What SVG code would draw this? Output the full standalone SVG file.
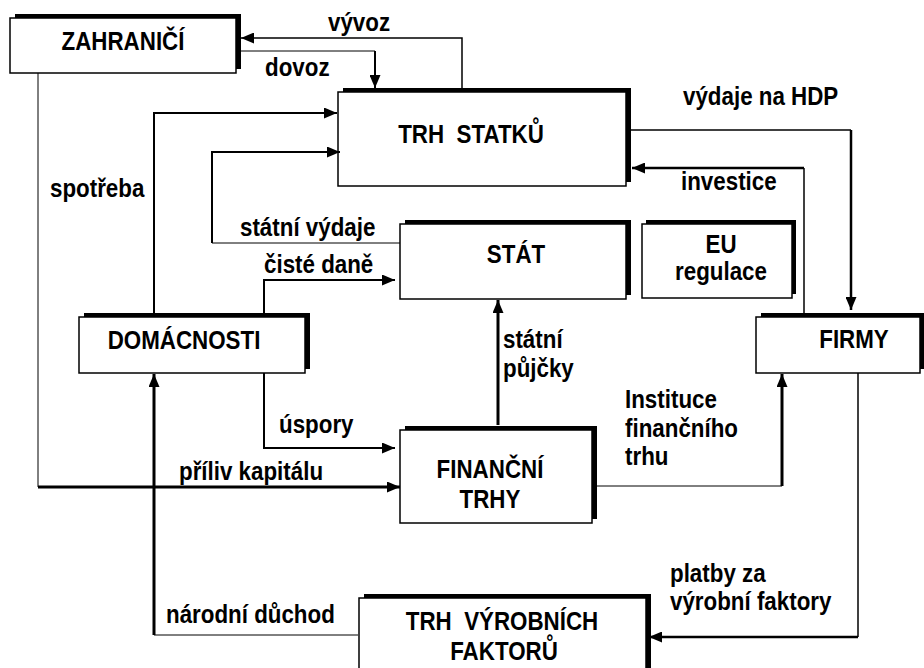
<svg xmlns="http://www.w3.org/2000/svg" width="924" height="668" viewBox="0 0 924 668">
<defs>
<marker id="ah" markerUnits="userSpaceOnUse" markerWidth="13" markerHeight="11" refX="13" refY="5.5" orient="auto">
<path d="M0,0 L13,5.5 L0,11 z" fill="#000"/>
</marker>
</defs>
<style>
text{font-family:"Liberation Sans",Arial,sans-serif;font-weight:bold;font-size:26px;fill:#000;white-space:pre}
.t{text-anchor:middle}
.sh{fill:#000}
.bx{fill:#fff;stroke:#000;stroke-width:1.5}
.c{fill:none;stroke:#000}
.a{marker-end:url(#ah)}
</style>
<rect width="924" height="668" fill="#fff"/>
<g id="zahranici"><rect class="sh" x="15" y="14" width="226" height="55"/><rect class="bx" x="10" y="18" width="226" height="55"/><text class="t" transform="translate(123,50) scale(0.86,1)">ZAHRANIČÍ</text></g>
<g id="trh-statku"><rect class="sh" x="343" y="88" width="288" height="94"/><rect class="bx" x="338" y="92" width="288" height="94"/><text class="t" transform="translate(471,143) scale(0.86,1)">TRH  STATKŮ</text></g>
<g id="stat"><rect class="sh" x="405" y="220" width="226" height="75"/><rect class="bx" x="400" y="224" width="226" height="75"/><text class="t" transform="translate(516,263) scale(0.86,1)">STÁT</text></g>
<g id="eu"><rect class="sh" x="646" y="220" width="150" height="74"/><rect class="bx" x="642" y="224" width="150" height="74"/><text class="t" transform="translate(721,253) scale(0.86,1)">EU</text><text class="t" transform="translate(721,280) scale(0.86,1)">regulace</text></g>
<g id="domacnosti"><rect class="sh" x="84" y="313" width="226" height="56"/><rect class="bx" x="79" y="317" width="226" height="56"/><text class="t" transform="translate(184,349) scale(0.86,1)">DOMÁCNOSTI</text></g>
<g id="firmy"><rect class="sh" x="761" y="313" width="164" height="56"/><rect class="bx" x="756" y="317" width="164" height="56"/><text class="t" transform="translate(854,348) scale(0.86,1)">FIRMY</text></g>
<g id="financni-trhy"><rect class="sh" x="405" y="426" width="192" height="93"/><rect class="bx" x="400" y="430" width="192" height="93"/><text class="t" transform="translate(490,478) scale(0.86,1)">FINANČNÍ</text><text class="t" transform="translate(490,508) scale(0.86,1)">TRHY</text></g>
<g id="trh-vyrobnich-faktoru"><rect class="sh" x="364" y="594" width="287" height="100"/><rect class="bx" x="359" y="598" width="287" height="100"/><text class="t" transform="translate(502,630) scale(0.86,1)">TRH  VÝROBNÍCH</text><text class="t" transform="translate(504,660) scale(0.86,1)">FAKTORŮ</text></g>
<g id="connectors">
<path class="c a" stroke-width="1.5" d="M462,88 V38 H241"/>
<path class="c" stroke-width="1" d="M241,51 H375"/>
<path class="c a" stroke-width="2" d="M375,51 V88"/>
<path class="c a" stroke-width="2" d="M154,313 V113 H337"/>
<path class="c" stroke-width="1" d="M400,243 H212"/>
<path class="c a" stroke-width="2" d="M212,243 V152 H340"/>
<path class="c" stroke-width="1.5" d="M631,130 H851"/>
<path class="c a" stroke-width="2.5" d="M851,130 V310"/>
<path class="c" stroke-width="1.5" d="M804,313 V168"/>
<path class="c a" stroke-width="2.5" d="M804,168 H632"/>
<path class="c a" stroke-width="2" d="M264,313 V280 H395"/>
<path class="c a" stroke-width="2" d="M264,373 V448 H395"/>
<path class="c" stroke-width="1" d="M38,73 V487"/>
<path class="c a" stroke-width="3" d="M38,487 H400"/>
<path class="c" stroke-width="1" d="M358,635 H154"/>
<path class="c a" stroke-width="3" d="M154,635 V374"/>
<path class="c a" stroke-width="3" d="M498,425 V300"/>
<path class="c" stroke-width="1" d="M597,486 H782"/>
<path class="c a" stroke-width="3" d="M782,486 V374"/>
<path class="c" stroke-width="1.5" d="M858,373 V637"/>
<path class="c a" stroke-width="2.5" d="M858,637 H649"/>
</g>
<g id="labels">
<text transform="translate(328,31) scale(0.86,1)">vývoz</text>
<text transform="translate(265,76) scale(0.86,1)">dovoz</text>
<text transform="translate(50,197) scale(0.86,1)">spotřeba</text>
<text transform="translate(683,105) scale(0.86,1)">výdaje na HDP</text>
<text transform="translate(681,190) scale(0.86,1)">investice</text>
<text transform="translate(240,236) scale(0.86,1)">státní výdaje</text>
<text transform="translate(264,273) scale(0.86,1)">čisté daně</text>
<text transform="translate(279,433) scale(0.86,1)">úspory</text>
<text transform="translate(179,480) scale(0.86,1)">příliv kapitálu</text>
<text transform="translate(503,348) scale(0.86,1)">státní</text>
<text transform="translate(503,377) scale(0.86,1)">půjčky</text>
<text transform="translate(625,408) scale(0.86,1)">Instituce</text>
<text transform="translate(625,437) scale(0.86,1)">finančního</text>
<text transform="translate(625,465) scale(0.86,1)">trhu</text>
<text transform="translate(166,623) scale(0.86,1)">národní důchod</text>
<text transform="translate(670,582) scale(0.86,1)">platby za</text>
<text transform="translate(670,610) scale(0.86,1)">výrobní faktory</text>
</g>
</svg>
